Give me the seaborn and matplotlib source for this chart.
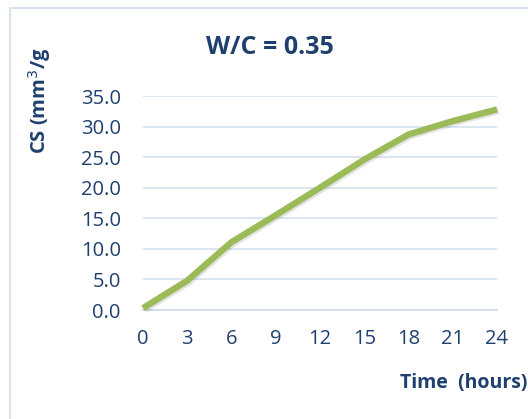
import matplotlib
matplotlib.use("Agg")
import matplotlib.pyplot as plt
import seaborn as sns
import pandas as pd
from matplotlib.patches import Rectangle
import matplotlib.patheffects as pe

time_hours = [0, 3, 6, 9, 12, 15, 18, 21, 24]
cs_values = [0.3, 4.8, 11.1, 15.5, 20.0, 24.6, 28.7, 30.9, 32.8]
x_ticks = [0, 3, 6, 9, 12, 15, 18, 21, 24]
y_ticks = [0, 5, 10, 15, 20, 25, 30, 35]
title = "W/C = 0.35"
ylabel = "CS (mm$^3$/g"
xlabel = "Time  (hours)"

df = pd.DataFrame({"t": time_hours, "cs": cs_values})

sns.set_theme(style="white")
plt.rcParams["font.family"] = ["Open Sans", "DejaVu Sans"]
text_color = "#1F406F"
grid_color = "#D6E1EF"

fig = plt.figure(figsize=(5.28, 4.19), dpi=100)
fig.patch.set_facecolor("white")
fig.patches.append(Rectangle((10/528, -0.05), 1.1, 1 - 8/419 + 0.05, transform=fig.transFigure,
                             fill=False, edgecolor="#D9E4F1", linewidth=1.5, zorder=0))

ax = fig.add_axes([143/528, 1 - 310/419, (497 - 143)/528, (310 - 96)/419])
sns.lineplot(data=df, x="t", y="cs", ax=ax, color="#9BBB59", linewidth=4.6,
             solid_capstyle="butt", clip_on=False, zorder=3,
             path_effects=[pe.SimpleLineShadow(offset=(1.2, -1.2), alpha=0.12), pe.Normal()])

ax.set_xlim(0, 24)
ax.set_ylim(0, 35)
ax.set_xticks(x_ticks)
ax.set_yticks(y_ticks)
ax.set_yticklabels([f"{v:.1f}" for v in y_ticks])
ax.yaxis.grid(True, color=grid_color, linewidth=1.2)
ax.xaxis.grid(False)
for s in ["top", "right", "left"]:
    ax.spines[s].set_visible(False)
ax.spines["bottom"].set_color("#D0D8E4")
ax.spines["bottom"].set_linewidth(1.2)
ax.tick_params(axis="x", which="major", direction="out", length=5, width=1.2,
               color="#D0D8E4", pad=9, labelsize=14.5, labelcolor=text_color)
ax.tick_params(axis="y", length=0, pad=16, labelsize=14.5, labelcolor=text_color)
ax.set_xlabel("")
ax.set_ylabel("")

fig.text(270/528, 1 - 47/419, title, ha="center", va="center", fontsize=18,
         fontweight="bold", color=text_color)
fig.text(40/528, 1 - 101/419, ylabel, ha="center", va="center", rotation=90,
         fontsize=14.5, fontweight="bold", color=text_color)
fig.text(527/528, 1 - 383/419, xlabel, ha="right", va="center", fontsize=14,
         fontweight="bold", color=text_color)

fig.savefig("out.png", dpi=100, facecolor="white")
